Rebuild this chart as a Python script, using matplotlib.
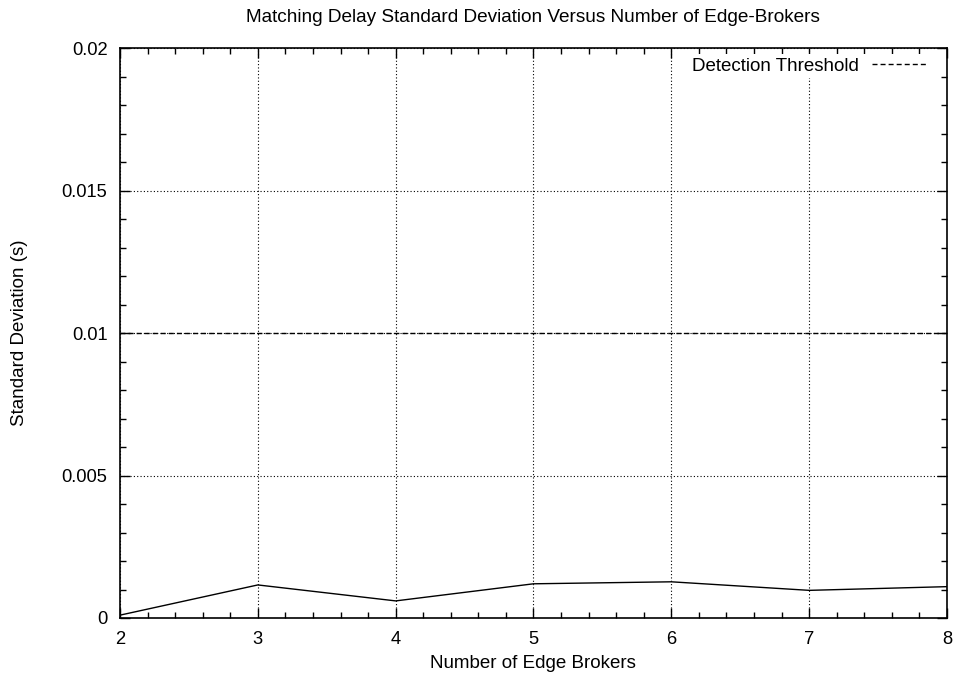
import matplotlib
matplotlib.use("Agg")
import matplotlib.pyplot as plt
from matplotlib.ticker import MultipleLocator, FuncFormatter

plt.rcParams['font.family'] = ['Liberation Sans', 'DejaVu Sans']
plt.rcParams['font.size'] = 13.5

brokers = [2, 3, 4, 5, 6, 7, 8]
std_dev = [0.0001, 0.00116, 0.0006, 0.0012, 0.00127, 0.00097, 0.0011]
threshold = 0.01

W, H = 956, 681
fig = plt.figure(figsize=(W / 100, H / 100), dpi=100)
ax = fig.add_axes([120 / W, (H - 618) / H, 827 / W, 570 / H])

ax.plot(brokers, std_dev, color='black', lw=1.0, zorder=3)
ax.axhline(threshold, color='black', lw=1.0, ls=(0, (3.6, 2.2)),
           label='Detection Threshold', zorder=3)

ax.set_xlim(2, 8)
ax.set_ylim(0, 0.02)
ax.xaxis.set_major_locator(MultipleLocator(1))
ax.xaxis.set_minor_locator(MultipleLocator(0.2))
ax.yaxis.set_major_locator(MultipleLocator(0.005))
ax.yaxis.set_minor_locator(MultipleLocator(0.001))
ax.yaxis.set_major_formatter(FuncFormatter(lambda v, p: f"{v:g}"))

ax.tick_params(which='both', direction='in', top=True, right=True, width=1.0)
ax.tick_params(which='major', length=7)
ax.tick_params(which='minor', length=4)
ax.tick_params(axis='x', which='major', pad=9, labelsize=13.2)
ax.tick_params(axis='y', which='major', pad=9, labelsize=13.2)
ax.grid(True, which='major', color='black', ls=(0, (1, 2)), lw=0.8, zorder=1)
for s in ax.spines.values():
    s.set_linewidth(1.2)
    s.set_zorder(5)

fig.text(533 / W, 1 - 18 / H, 'Matching Delay Standard Deviation Versus Number of Edge-Brokers',
         ha='center', va='center', fontsize=13.7)
fig.text(533 / W, 1 - 664 / H, 'Number of Edge Brokers', ha='center', va='center')
fig.text(20 / W, (H - 333) / H, 'Standard Deviation (s)', ha='center', va='center',
         rotation=90)

leg = ax.legend(loc='upper right', bbox_to_anchor=(0.982, 0.99), frameon=True,
                markerfirst=False, handlelength=3.0, handletextpad=0.7,
                borderpad=0.2, borderaxespad=0, fancybox=False)
leg.get_frame().set_facecolor('white')
leg.get_frame().set_edgecolor('none')
leg.get_frame().set_alpha(1)
leg.set_zorder(4)

fig.savefig('out.png', dpi=100)
